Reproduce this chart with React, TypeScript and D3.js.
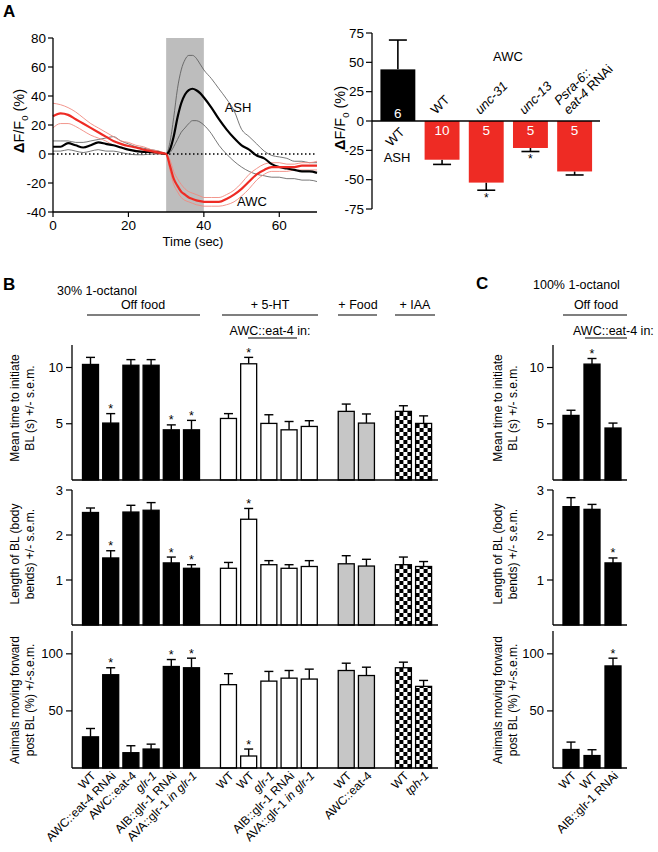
import React from "react";
import * as d3 from "d3";

const FONT = "'Liberation Sans', Arial, Helvetica, sans-serif";

// ---------- Panel A (left): calcium traces ----------
const traceTime = [0, 2, 4, 6, 8, 10, 12, 14, 16, 18, 20, 22, 24, 26, 28, 30, 31, 32, 33, 34, 35, 36, 37, 38, 39, 40, 42, 44, 46, 48, 50, 52, 54, 56, 58, 60, 62, 64, 66, 68, 70];
const ashMean = [5, 5, 7.5, 6, 4.5, 6, 8, 7, 6, 4.5, 3, 2, 1.5, 1.5, 1, 0, 3, 12, 25, 35, 41, 44, 45, 44, 42, 39, 32, 24, 17, 11, 6, 3, -1, -3, -7, -9, -10, -11, -12, -12, -13];
const ashHi = [9, 9, 9, 8, 8, 9, 10, 11, 12, 9, 7, 5, 4, 3, 2, 0, 8, 25, 45, 58, 65, 68, 68, 66, 62, 58, 52, 45, 38, 30, 17, 12, 7, 2, -1, -2, -3, -5, -5, -6, -6];
const ashLo = [2, 2, 3, 2, 1, 2, 3, 2, 2, 1, 0, -0.5, -0.5, 0, 0, 0, 1, 5, 10, 15, 18, 21, 23, 23, 22, 20, 14, 6, 0, -5, -9, -12, -14, -15, -16, -16, -17, -17, -18, -18, -19];
const awcMean = [26, 28, 27, 24, 21, 18, 15, 12, 9, 7, 5.5, 4.5, 3, 2, 1, 0, -8, -17, -22, -26, -28, -30, -31, -32, -32.5, -33, -33, -33, -31, -28, -24, -19, -14, -11, -9, -9, -9, -9, -8, -8, -8];
const awcHi = [35, 34, 32, 29, 25, 21, 18, 15, 12, 9, 8, 6, 5, 3, 2, 0, -4, -12, -17, -21, -24, -26, -27, -28, -29, -30, -30, -30, -28, -25, -20, -14, -10, -7, -6, -6, -7, -7, -6, -6, -5];
const awcLo = [18, 21, 21, 19, 16, 13, 11, 9, 6, 5, 3, 2.5, 1.5, 1, 0, 0, -11, -21, -26, -30, -32, -33, -34, -35, -35.5, -36, -36, -36, -35, -33, -29, -24, -18, -14, -12, -12, -12, -11, -11, -11, -11];
const stimOn = 30;
const stimOff = 40;
const aLeftYTicks = [-40, -20, 0, 20, 40, 60, 80];
const aLeftXTicks = [0, 20, 40, 60];

// ---------- Panel A (right): peak responses ----------
const aCats = ["WT", "WT", "_unc-31_", "_unc-13_", "_Psra-6::_|_eat-4_ RNAi"];
const aVals = [44, -33, -52.5, -23, -43];
const aSem = [25, 4, 6.5, 3, 3];
const aN = ["6", "10", "5", "5", "5"];
const aStars = [2, 3];
const aRightTicks = [-75, -50, -25, 0, 25, 50, 75];

// ---------- Panel B ----------
const bCats = ["WT", "AWC::eat-4 RNAi", "AWC::eat-4", "_glr-1_", "AIB::glr-1 RNAi", "AVA::glr-1 _in glr-1_", "WT", "WT", "_glr-1_", "AIB::glr-1 RNAi", "AVA::glr-1 _in glr-1_", "WT", "AWC::eat-4", "WT", "_tph-1_"];
const bGroup = [0, 0, 0, 0, 0, 0, 1, 1, 1, 1, 1, 2, 2, 3, 3];
const bTime = [10.27, 5.06, 10.2, 10.2, 4.46, 4.46, 5.47, 10.33, 5.03, 4.46, 4.76, 6.1, 5.06, 6.1, 5.03];
const bTimeSem = [0.63, 0.84, 0.5, 0.5, 0.44, 0.84, 0.43, 0.57, 0.77, 0.74, 0.51, 0.65, 0.81, 0.5, 0.67];
const bTimeStars = [1, 4, 5, 7];
const bLen = [2.5, 1.49, 2.51, 2.55, 1.38, 1.26, 1.26, 2.35, 1.34, 1.26, 1.3, 1.36, 1.31, 1.34, 1.3];
const bLenSem = [0.1, 0.16, 0.15, 0.17, 0.13, 0.08, 0.13, 0.24, 0.09, 0.08, 0.13, 0.18, 0.15, 0.17, 0.11];
const bLenStars = [1, 4, 5, 7];
const bFwd = [27.3, 81.7, 13.4, 16.6, 88.9, 87.8, 73, 10.5, 76.1, 78.7, 77.9, 85.4, 81, 87.8, 71.5];
const bFwdSem = [7.3, 6.1, 6.1, 4.3, 6.1, 8.4, 9.6, 6.1, 8.5, 6.7, 8.7, 6.4, 7.3, 4.9, 5.2];
const bFwdStars = [1, 4, 5, 7];

// ---------- Panel C ----------
const cCats = ["WT", "WT", "AIB::glr-1 RNAi"];
const cTime = [5.74, 10.3, 4.62];
const cTimeSem = [0.46, 0.5, 0.44];
const cTimeStars = [1];
const cLen = [2.63, 2.57, 1.38];
const cLenSem = [0.2, 0.11, 0.11];
const cLenStars = [2];
const cFwd = [16.2, 10.9, 89.4];
const cFwdSem = [6.5, 5.1, 6.8];
const cFwdStars = [2];

const timeTicks = [5, 10];
const lenTicks = [1, 2, 3];
const fwdTicks = [50, 100];

function segs(s: string) {
  return s.split("_").map((p, i) =>
    p ? (
      <tspan key={i} fontStyle={i % 2 === 1 ? "italic" : "normal"}>
        {p}
      </tspan>
    ) : null
  );
}

type PanelProps = {
  id: string;
  xs: number[];
  vals: number[];
  sems: number[];
  stars: number[];
  fills: string[];
  y: d3.ScaleLinear<number, number>;
  ticks: number[];
  axisX: number;
  axisEnd: number;
  labels?: string[];
};

const BW = 16;

function BarPanel(p: PanelProps) {
  const [y0, yTop] = p.y.range();
  return (
    <g>
      <defs>
        {p.xs.map((cx, i) =>
          p.fills[i] === "check" ? (
            <pattern key={i} id={`${p.id}-chk-${i}`} x={cx - BW / 2} y={y0} width={8} height={8} patternUnits="userSpaceOnUse">
              <rect width={8} height={8} fill="#fff" />
              <rect width={4} height={4} fill="#000" />
              <rect x={4} y={4} width={4} height={4} fill="#000" />
            </pattern>
          ) : null
        )}
      </defs>
      {p.xs.map((cx, i) => {
        const top = p.y(p.vals[i]);
        const et = p.y(p.vals[i] + p.sems[i]);
        const fill = p.fills[i] === "check" ? `url(#${p.id}-chk-${i})` : p.fills[i];
        return (
          <g key={i}>
            <line x1={cx} x2={cx} y1={top} y2={et} stroke="#000" strokeWidth={1.4} />
            <line x1={cx - 4.5} x2={cx + 4.5} y1={et} y2={et} stroke="#000" strokeWidth={1.4} />
            <rect x={cx - BW / 2} y={top} width={BW} height={y0 - top} fill={fill} stroke="#000" strokeWidth={1.3} />
            {p.stars.includes(i) ? (
              <text x={cx} y={et - 0.5} textAnchor="middle" fontSize={12.5} fontFamily={FONT}>
                *
              </text>
            ) : null}
          </g>
        );
      })}
      <line x1={p.axisX} x2={p.axisX} y1={yTop} y2={y0} stroke="#000" strokeWidth={1.3} />
      <line x1={p.axisX} x2={p.axisEnd} y1={y0} y2={y0} stroke="#000" strokeWidth={1.3} />
      {p.ticks.map((t) => (
        <g key={t}>
          <line x1={p.axisX - 6} x2={p.axisX} y1={p.y(t)} y2={p.y(t)} stroke="#000" strokeWidth={1.2} />
          <text x={p.axisX - 9} y={p.y(t)} dy="0.35em" textAnchor="end" fontSize={13} fontFamily={FONT}>
            {t}
          </text>
        </g>
      ))}
      {p.labels
        ? p.labels.map((l, i) => (
            <text key={i} transform={`translate(${p.xs[i] + 6},${y0 + 8.5}) rotate(-45)`} textAnchor="end" fontSize={12} fontFamily={FONT}>
              {segs(l)}
            </text>
          ))
        : null}
    </g>
  );
}

function YLabel({ x, y, lines }: { x: number; y: number; lines: string[] }) {
  return (
    <g>
      {lines.map((l, i) => (
        <text key={i} transform={`translate(${x + i * 15},${y}) rotate(-90)`} textAnchor="middle" dy="0.35em" fontSize={12} fontFamily={FONT}>
          {l}
        </text>
      ))}
    </g>
  );
}

function DFLabel({ x, y }: { x: number; y: number }) {
  return (
    <text transform={`translate(${x},${y}) rotate(-90)`} textAnchor="middle" dy="0.35em" fontSize={14.5} fontFamily={FONT}>
      <tspan fontWeight="bold">Δ</tspan>F/F<tspan dy={3.5} fontSize={9.5}>0</tspan>
      <tspan dy={-3.5}> (%)</tspan>
    </text>
  );
}

export default function App() {
  // A left scales
  const ax = d3.scaleLinear().domain([0, 70]).range([53, 317]);
  const ay = d3.scaleLinear().domain([-40, 80]).range([212, 38]);
  const line = d3
    .line<number>()
    .x((_, i) => ax(traceTime[i]))
    .y((d) => ay(d))
    .curve(d3.curveMonotoneX);

  // A right scales
  const ry = d3.scaleLinear().domain([-75, 75]).range([209, 33]);
  const rx = d3
    .scaleBand<number>()
    .domain(aVals.map((_, i) => i))
    .range([376, 596.5])
    .paddingInner(0.21)
    .paddingOuter(0.1);
  const rbw = rx.bandwidth();

  // B positions
  const bStep = d3.scaleLinear().domain([0, 1]).range([90.5, 110.7]);
  const bxs = bGroup.map((g, i) => bStep(i + g * 0.83));
  const groupFill = ["#000", "#fff", "#c6c6c6", "check"];
  const bFills = bGroup.map((g) => groupFill[g]);

  const cStep = d3.scaleLinear().domain([0, 1]).range([571, 592]);
  const cxs = cCats.map((_, i) => cStep(i));
  const cFills = cCats.map(() => "#000");

  const yTime = d3.scaleLinear().domain([0, 12]).range([480, 345]);
  const yLen = d3.scaleLinear().domain([0, 3]).range([625, 490]);
  const yFwd = d3.scaleLinear().domain([0, 120]).range([768, 631]);

  const red = "#ee2b24";

  return (
    <svg width={658} height={852} style={{ position: "absolute", left: 0, top: 0, background: "#fff" }} fontFamily={FONT}>
      <rect width={658} height={852} fill="#fff" />
      {/* Panel letters */}
      <text x={3} y={17} fontSize={17} fontWeight="bold">A</text>
      <text x={3} y={290} fontSize={17} fontWeight="bold">B</text>
      <text x={476} y={289} fontSize={17} fontWeight="bold">C</text>

      {/* ===== A left ===== */}
      <rect x={ax(stimOn)} y={ay(80)} width={ax(stimOff) - ax(stimOn)} height={ay(-40) - ay(80)} fill="#bdbdbd" />
      <line x1={ax(0)} x2={ax(70)} y1={ay(0)} y2={ay(0)} stroke="#000" strokeWidth={1.3} strokeDasharray="1.5,2.5" />
      <path d={line(ashHi) || ""} fill="none" stroke="#555" strokeWidth={0.8} />
      <path d={line(ashLo) || ""} fill="none" stroke="#555" strokeWidth={0.8} />
      <path d={line(awcHi) || ""} fill="none" stroke="#f08a80" strokeWidth={0.9} />
      <path d={line(awcLo) || ""} fill="none" stroke="#f08a80" strokeWidth={0.9} />
      <path d={line(ashMean) || ""} fill="none" stroke="#000" strokeWidth={2.2} />
      <path d={line(awcMean) || ""} fill="none" stroke={red} strokeWidth={2.2} />
      <line x1={ax(0)} x2={ax(0)} y1={ay(80)} y2={ay(-40)} stroke="#000" strokeWidth={1.3} />
      <line x1={ax(0)} x2={ax(70)} y1={ay(-40)} y2={ay(-40)} stroke="#000" strokeWidth={1.3} />
      {aLeftYTicks.map((t) => (
        <g key={t}>
          <line x1={ax(0) - 5} x2={ax(0)} y1={ay(t)} y2={ay(t)} stroke="#000" strokeWidth={1.2} />
          <text x={ax(0) - 7} y={ay(t)} dy="0.35em" textAnchor="end" fontSize={13.5}>{t}</text>
        </g>
      ))}
      {aLeftXTicks.map((t) => (
        <g key={t}>
          <line x1={ax(t)} x2={ax(t)} y1={ay(-40)} y2={ay(-40) + 5} stroke="#000" strokeWidth={1.2} />
          <text x={ax(t)} y={229.5} textAnchor="middle" fontSize={13.5}>{t}</text>
        </g>
      ))}
      <text x={193} y={246} textAnchor="middle" fontSize={13}>Time (sec)</text>
      <DFLabel x={19} y={121} />
      <text x={238} y={112} textAnchor="middle" fontSize={13}>ASH</text>
      <text x={252} y={206} textAnchor="middle" fontSize={13}>AWC</text>

      {/* ===== A right ===== */}
      {aVals.map((v, i) => {
        const x0 = rx(i) as number;
        const cx = x0 + rbw / 2;
        const yv = ry(v);
        const ye = ry(v + Math.sign(v) * aSem[i]);
        return (
          <g key={i}>
            <line x1={cx} x2={cx} y1={yv} y2={ye} stroke="#000" strokeWidth={1.6} />
            <line x1={cx - 9} x2={cx + 9} y1={ye} y2={ye} stroke="#000" strokeWidth={1.6} />
            <rect x={x0} y={Math.min(yv, ry(0))} width={rbw} height={Math.abs(yv - ry(0))} fill={v > 0 ? "#000" : red} />
            <text x={cx} y={v > 0 ? ry(0) - 3.5 : ry(0) + 14} textAnchor="middle" fontSize={13.5} fill="#fff">{aN[i]}</text>
            {aStars.includes(i) ? (
              <text x={cx} y={ye + 11.5} textAnchor="middle" fontSize={12}>*</text>
            ) : null}
            {v > 0 ? (
              <text transform={`translate(${cx + 7.5},${ry(0) + 12}) rotate(-45)`} textAnchor="end" fontSize={13}>
                {segs(aCats[i])}
              </text>
            ) : (
              aCats[i].split("|").map((ln, k, arr) => (
                <text key={k} transform={`translate(${cx - 6},${ry(0) - 6}) rotate(-45)`} dy={-(arr.length - 1 - k) * 13} textAnchor="start" fontSize={13}>
                  {segs(ln)}
                </text>
              ))
            )}
          </g>
        );
      })}
      <line x1={372} x2={600} y1={ry(0)} y2={ry(0)} stroke="#000" strokeWidth={1.4} />
      <line x1={372} x2={372} y1={ry(75)} y2={ry(-75)} stroke="#000" strokeWidth={1.3} />
      {aRightTicks.map((t) => (
        <g key={t}>
          <line x1={366} x2={372} y1={ry(t)} y2={ry(t)} stroke="#000" strokeWidth={1.2} />
          <text x={364} y={ry(t)} dy="0.35em" textAnchor="end" fontSize={13.5}>{t}</text>
        </g>
      ))}
      <DFLabel x={340} y={118} />
      <text x={508} y={61} textAnchor="middle" fontSize={13}>AWC</text>
      <text x={397} y={162} textAnchor="middle" fontSize={13}>ASH</text>

      {/* ===== B headers ===== */}
      <text x={57} y={294.5} fontSize={12.5}>30% 1-octanol</text>
      <text x={143} y={309} textAnchor="middle" fontSize={12.5}>Off food</text>
      <line x1={87} x2={200} y1={315} y2={315} stroke="#000" strokeWidth={1.2} />
      <text x={270} y={309} textAnchor="middle" fontSize={12.5}>+ 5-HT</text>
      <line x1={222} x2={318} y1={315} y2={315} stroke="#000" strokeWidth={1.2} />
      <text x={270} y={335} textAnchor="middle" fontSize={12.5}>AWC::eat-4 in:</text>
      <line x1={248} x2={297} y1={338} y2={338} stroke="#000" strokeWidth={1.2} />
      <text x={358} y={309} textAnchor="middle" fontSize={12.5}>+ Food</text>
      <line x1={338} x2={377} y1={315} y2={315} stroke="#000" strokeWidth={1.2} />
      <text x={415} y={309} textAnchor="middle" fontSize={12.5}>+ IAA</text>
      <line x1={395} x2={435} y1={315} y2={315} stroke="#000" strokeWidth={1.2} />

      <BarPanel id="bt" xs={bxs} vals={bTime} sems={bTimeSem} stars={bTimeStars} fills={bFills} y={yTime} ticks={timeTicks} axisX={72} axisEnd={438} />
      <BarPanel id="bl" xs={bxs} vals={bLen} sems={bLenSem} stars={bLenStars} fills={bFills} y={yLen} ticks={lenTicks} axisX={72} axisEnd={438} />
      <BarPanel id="bf" xs={bxs} vals={bFwd} sems={bFwdSem} stars={bFwdStars} fills={bFills} y={yFwd} ticks={fwdTicks} axisX={72} axisEnd={438} labels={bCats} />
      <YLabel x={15} y={408} lines={["Mean time to initiate", "BL (s) +/- s.e.m."]} />
      <YLabel x={15} y={554} lines={["Length of BL (body", "bends) +/- s.e.m."]} />
      <YLabel x={15} y={700} lines={["Animals moving forward", "post BL (%) +/-s.e.m."]} />

      {/* ===== C ===== */}
      <text x={533} y={289} fontSize={12.5}>100% 1-octanol</text>
      <text x={596} y={309} textAnchor="middle" fontSize={12.5}>Off food</text>
      <line x1={563} x2={627} y1={315} y2={315} stroke="#000" strokeWidth={1.2} />
      <text x={573} y={335} fontSize={12.5}>AWC::eat-4 in:</text>
      <line x1={585} x2={627} y1={338} y2={338} stroke="#000" strokeWidth={1.2} />
      <BarPanel id="ct" xs={cxs} vals={cTime} sems={cTimeSem} stars={cTimeStars} fills={cFills} y={yTime} ticks={timeTicks} axisX={553} axisEnd={627} />
      <BarPanel id="cl" xs={cxs} vals={cLen} sems={cLenSem} stars={cLenStars} fills={cFills} y={yLen} ticks={lenTicks} axisX={553} axisEnd={627} />
      <BarPanel id="cf" xs={cxs} vals={cFwd} sems={cFwdSem} stars={cFwdStars} fills={cFills} y={yFwd} ticks={fwdTicks} axisX={553} axisEnd={627} labels={cCats} />
      <YLabel x={498} y={408} lines={["Mean time to initiate", "BL (s) +/- s.e.m."]} />
      <YLabel x={498} y={554} lines={["Length of BL (body", "bends) +/- s.e.m."]} />
      <YLabel x={498} y={700} lines={["Animals moving forward", "post BL (%) +/-s.e.m."]} />
    </svg>
  );
}
